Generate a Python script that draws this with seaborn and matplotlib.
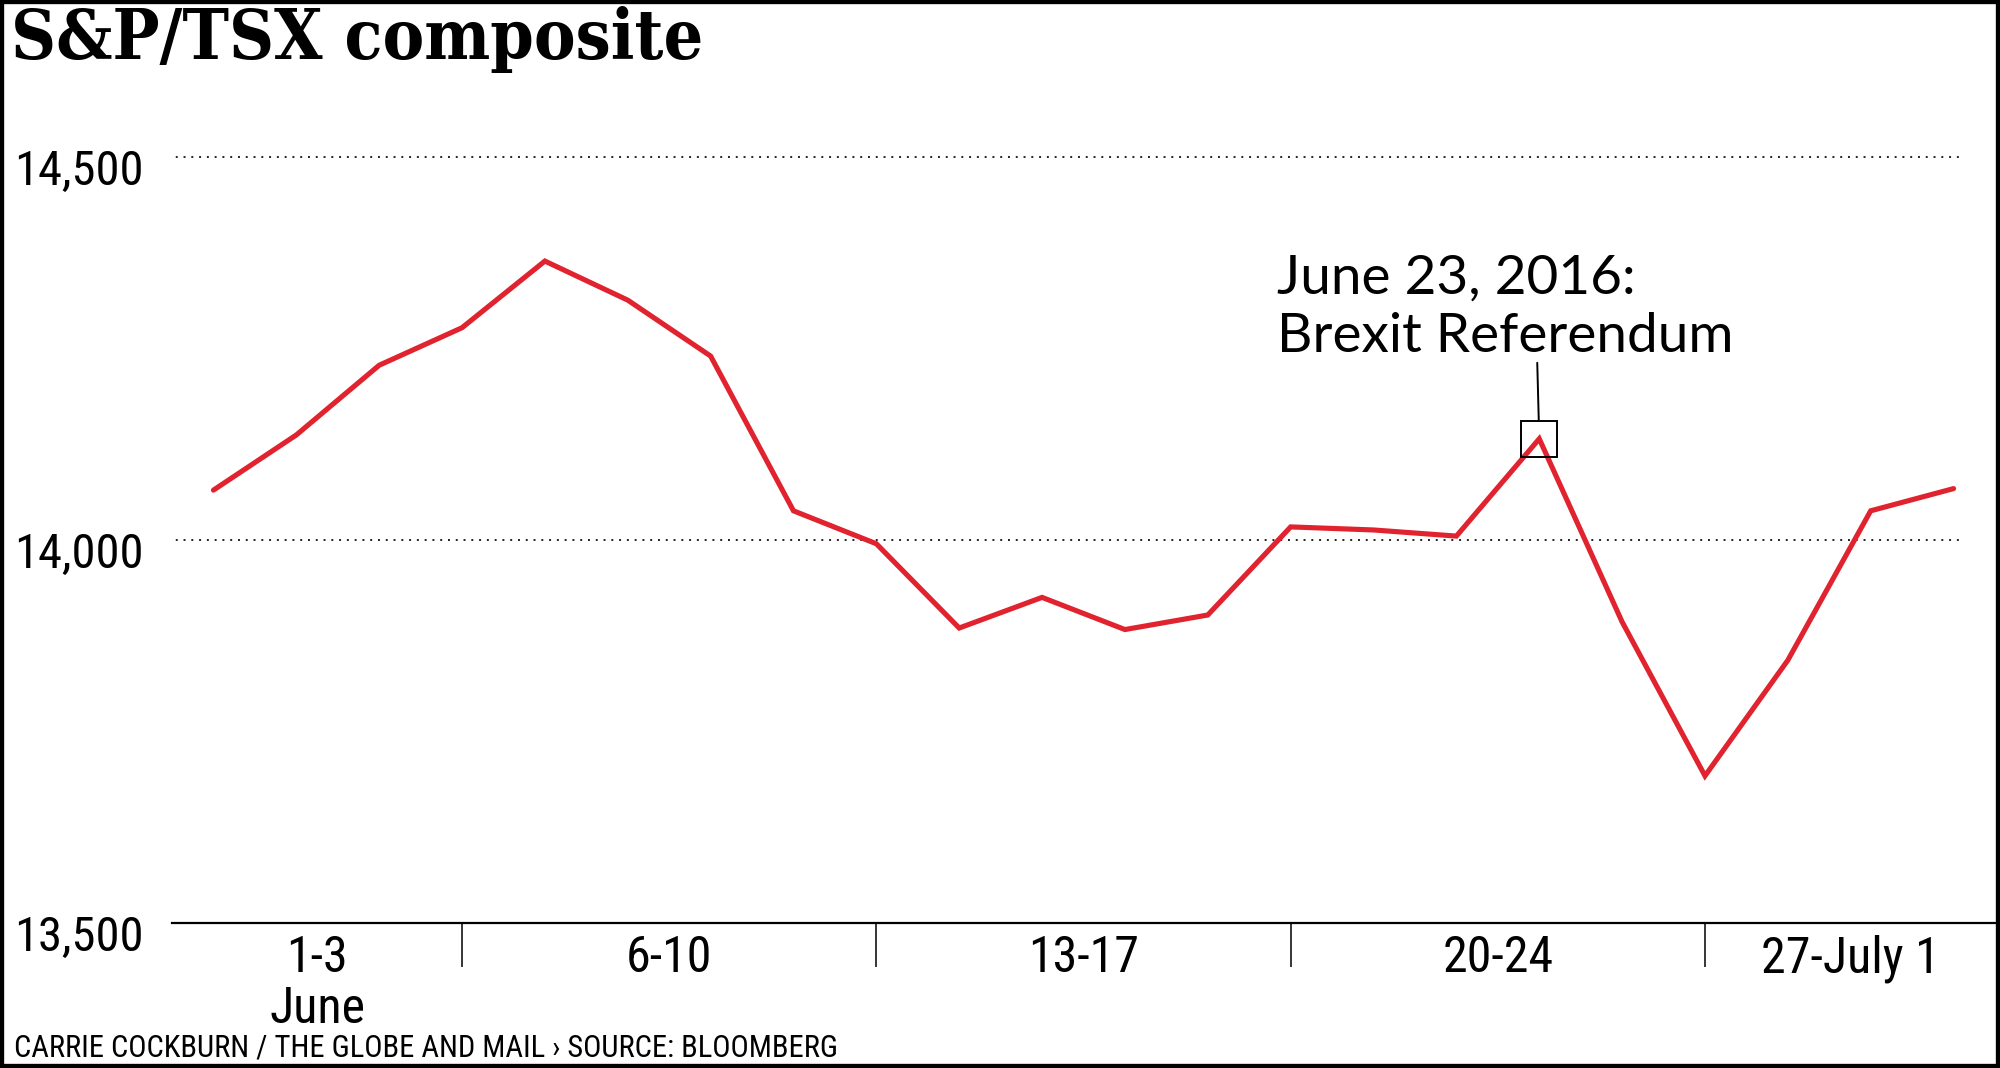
import numpy as np
import pandas as pd
import matplotlib
matplotlib.use("Agg")
import matplotlib.pyplot as plt
import matplotlib.transforms as mtransforms
from matplotlib import font_manager as fm
from matplotlib.patches import Rectangle
import seaborn as sns

# daily closes, June 1 - June 30 2016 (July 1 closed)
days = ["Jun 1", "Jun 2", "Jun 3",
        "Jun 6", "Jun 7", "Jun 8", "Jun 9", "Jun 10",
        "Jun 13", "Jun 14", "Jun 15", "Jun 16", "Jun 17",
        "Jun 20", "Jun 21", "Jun 22", "Jun 23", "Jun 24",
        "Jun 27", "Jun 28", "Jun 29", "Jun 30"]
closes = [14065, 14137, 14228, 14277, 14364, 14313, 14240, 14038, 13995,
          13885, 13925, 13883, 13902, 14017, 14013, 14005, 14132, 13893,
          13692, 13843, 14038, 14067]
week_labels = ["1-3\nJune", "6-10", "13-17", "20-24", "27-July 1"]
week_starts = [0, 3, 8, 13, 18]
y_ticks = [13500, 14000, 14500]
y_labels = ["13,500", "14,000", "14,500"]
event_day = "Jun 23"
event_text = "June 23, 2016:\nBrexit Referendum"

CONDENSED = ("condensed", "semi-condensed", "extra-condensed")


def pick_narrow():
    # look for a condensed sans among the installed fonts
    fonts = fm.fontManager.ttflist
    names = {f.name for f in fonts}
    for cand in ["Liberation Sans Narrow", "Roboto Condensed", "Open Sans Condensed",
                 "Noto Sans Condensed", "DejaVu Sans Condensed", "Noto Sans SemiCondensed"]:
        if cand in names:
            return cand, "normal"
    for fam in ["Noto Sans", "DejaVu Sans", "Open Sans", "Roboto"]:
        for f in fonts:
            if f.name == fam and str(f.stretch) in CONDENSED:
                return fam, "condensed"
    for f in fonts:
        if ("Narrow" in f.name or "Condensed" in f.name) and "Sans" in f.name:
            return f.name, "normal"
    return "Roboto", "normal"


def serif_condensed():
    for f in fm.fontManager.ttflist:
        if f.name == "DejaVu Serif" and str(f.stretch) in CONDENSED and f.weight in ("bold", 700):
            return True
    return False


narrow_family, narrow_stretch = pick_narrow()
title_cond = serif_condensed()

sns.set_style("white")
plt.rcParams["font.family"] = [narrow_family, "DejaVu Sans"]
plt.rcParams["font.stretch"] = narrow_stretch
for k in ["text.color", "axes.labelcolor", "xtick.color", "ytick.color"]:
    plt.rcParams[k] = "black"

df = pd.DataFrame({"day": days, "close": closes})
df["pos"] = np.arange(len(df))

fig = plt.figure(figsize=(20, 10.68), dpi=100)
ax = fig.add_axes([0.086, 0.1358, 0.9115, 0.8249])

red = "#E0232E"
sns.lineplot(data=df, x="pos", y="close", color=red, linewidth=3.7, ax=ax)
ax.lines[0].set_solid_joinstyle("miter")

ax.set_xlim(-0.5, len(df) - 0.5)
ax.set_ylim(13500, 14650)

# dotted gridlines
for yv in y_ticks[1:]:
    ax.axhline(yv, xmin=-0.002, xmax=0.981, color="#222222", lw=1.4,
               linestyle=(0, (1, 3)), zorder=0)

for s in ["top", "right", "left"]:
    ax.spines[s].set_visible(False)
ax.spines["bottom"].set_linewidth(1.6)
ax.spines["bottom"].set_color("black")

# y labels
ax.set_yticks(y_ticks)
ax.set_yticklabels(y_labels, fontsize=35, ha="left")
ax.tick_params(axis="y", length=0, pad=114)
off = mtransforms.ScaledTranslation(0, -10 / 100, fig.dpi_scale_trans)
for lab in ax.get_yticklabels():
    lab.set_transform(lab.get_transform() + off)

# week separators and labels
seps = week_starts[1:]
edges = [ax.get_xlim()[0]] + seps + [ax.get_xlim()[1]]
mids = [(a + b) / 2 for a, b in zip(edges[:-1], edges[1:])]
ax.set_xticks(seps)
ax.set_xticklabels([])
ax.tick_params(axis="x", which="major", direction="out", length=32, width=1.1,
               color="black", bottom=True)
ax.set_xticks(mids, minor=True)
ax.set_xticklabels(week_labels, minor=True, fontsize=36, linespacing=1.07)
ax.tick_params(axis="x", which="minor", length=0, pad=8)
ax.set_xlabel("")
ax.set_ylabel("")

# event marker
ev = df[df.day == event_day].iloc[0]
ax.plot(ev.pos, ev.close, marker="s", ms=26, mfc="none", mec="black", mew=1.4)
ax.annotate("", xy=(ev.pos, ev.close), xycoords="data",
            xytext=(-2, 76), textcoords="offset pixels",
            arrowprops=dict(arrowstyle="-", color="black", lw=1.4,
                            shrinkA=0, shrinkB=13.5))
# baseline of the last line sits just above the leader
ax.annotate(event_text, xy=(ev.pos, ev.close), xycoords="data",
            xytext=(-262, 87), textcoords="offset pixels",
            ha="left", va="baseline", fontsize=39.5, linespacing=1.24,
            family=["Lato", "DejaVu Sans"], fontstretch="normal")

# title and credit
if title_cond:
    fig.text(0.0055, 0.945, "S&P/TSX composite", fontsize=50, fontweight="bold",
             family=["DejaVu Serif"], fontstretch="condensed", ha="left", va="baseline")
else:
    fig.text(0.0055, 0.945, "S&P/TSX composite", fontsize=45, fontweight="bold",
             family=["DejaVu Serif"], fontstretch="normal", ha="left", va="baseline")
fig.text(0.007, 0.0105, "CARRIE COCKBURN / THE GLOBE AND MAIL \u203a SOURCE: BLOOMBERG",
         fontsize=22, ha="left", va="baseline")

# frame around the graphic
fig.patches.append(Rectangle((0, 0), 1, 1, transform=fig.transFigure, fill=False,
                             lw=6, ec="black", zorder=10))

fig.savefig("out.png", dpi=100, facecolor="white")
